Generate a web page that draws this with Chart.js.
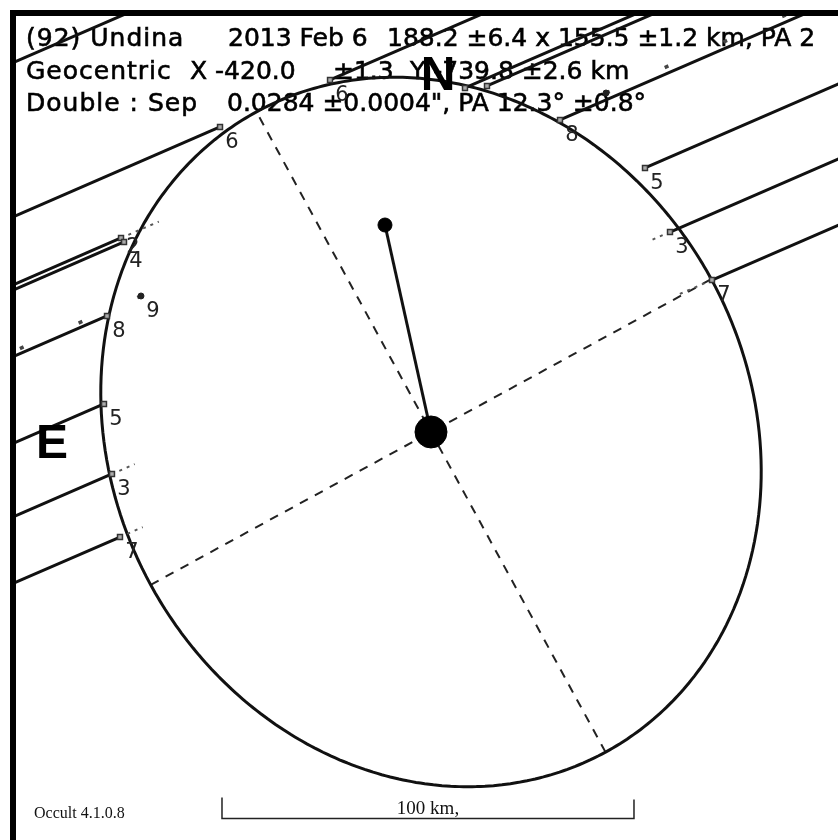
<!DOCTYPE html>
<html>
<head>
<meta charset="utf-8">
<script src="https://cdn.jsdelivr.net/npm/chart.js@4.4.1/dist/chart.umd.min.js"></script>
<style>
  html, body { margin: 0; padding: 0; background: #fff; }
  #wrap { width: 838px; height: 840px; }
</style>
</head>
<body>
<div id="wrap"><canvas id="occ" width="838" height="840"></canvas></div>
<script>
// all positions in km on the sky plane, origin at the fitted centre
const chordIds = ["6", "2", "4", "8", "9", "5", "3", "7"];
const disX = [-51.21, -75.24, -74.51, -78.64, -70.39, -79.37, -77.43, -75.49];
const disY = [74.03, 47.09, 46.12, 28.16, 33.01, 6.80, -10.19, -25.49];
const reaX = [-24.51, 8.25, 13.59, 31.31, 42.48, 51.94, 58.01, 68.20];
const reaY = [85.44, 83.50, 83.98, 75.73, 82.28, 64.08, 48.54, 36.89];
const errDis = [0, 10, 0, 0, 0, 0, 6, 6];
const errRea = [0, 0, 0, 0, 0, 0, 5, 9];
const visualChords = ["9"];
const missX = [-87.62];
const missY = [95.63];

const pathAngle = 23.46;   // direction of motion, deg above the x axis
const fitMajor = 177.0;
const fitMinor = 155.0;
const fitPA = 28.6;
const secX = -11.17;
const secY = 50.24;
const barStart = -50.73;
const barKm = 100;
const barY = -93.69;

const titleLines = [
  ["(92) Undina", "2013 Feb 6", "188.2 \u00b16.4 x 155.5 \u00b11.2 km, PA 2"],
  ["Geocentric", "X -420.0", "\u00b11.3", "Y -739.8 \u00b12.6 km"],
  ["Double : Sep", "0.0284 \u00b10.0004\", PA 12.3\u00b0 \u00b10.8\u00b0"]
];

const deg = Math.PI / 180;
const ux = Math.cos(pathAngle * deg), uy = Math.sin(pathAngle * deg);
const far = 400;

function seg(x1, y1, x2, y2) {
  return [{ x: x1, y: y1 }, { x: x2, y: y2 }];
}

const maj = { x: -Math.sin(fitPA * deg), y: Math.cos(fitPA * deg) };
const mnr = { x: Math.cos(fitPA * deg), y: Math.sin(fitPA * deg) };

const limb = [];
for (let i = 0; i <= 240; i++) {
  const t = (i / 240) * 2 * Math.PI;
  const a = (fitMajor / 2) * Math.cos(t), b = (fitMinor / 2) * Math.sin(t);
  limb.push({ x: a * maj.x + b * mnr.x, y: a * maj.y + b * mnr.y });
}

const line = (data, extra) => Object.assign({
  data: data,
  showLine: true,
  borderColor: "#111",
  borderWidth: 3,
  pointRadius: 0,
  tension: 0,
  clip: 0,
}, extra || {});

const datasets = [];

// markers on top
const markers = [];
chordIds.forEach((id, i) => {
  if (visualChords.includes(id)) return;
  markers.push({ x: disX[i], y: disY[i] });
  markers.push({ x: reaX[i], y: reaY[i] });
});
datasets.push({
  data: markers,
  pointStyle: "rect",
  pointRadius: 3.5,
  pointBackgroundColor: "#aaa",
  pointBorderColor: "#333",
  pointBorderWidth: 1.5,
  clip: 0,
});

// visual chord end dots
const vis = [];
chordIds.forEach((id, i) => {
  if (!visualChords.includes(id)) return;
  vis.push({ x: disX[i], y: disY[i] }, { x: reaX[i], y: reaY[i] });
});
datasets.push({
  data: vis,
  pointRadius: 3,
  pointBackgroundColor: "#222",
  pointBorderColor: "#222",
  clip: 0,
});

// primary and secondary star
datasets.push({
  data: [{ x: 0, y: 0 }],
  pointRadius: 16,
  pointBackgroundColor: "#000",
  pointBorderColor: "#000",
});
datasets.push({
  data: [{ x: secX, y: secY }],
  pointRadius: 7,
  pointBackgroundColor: "#000",
  pointBorderColor: "#000",
});
datasets.push(line(seg(0, 0, secX, secY), { borderWidth: 3 }));

// chords, each drawn outward from its D / R point
chordIds.forEach((id, i) => {
  const style = visualChords.includes(id)
    ? { borderDash: [4, 60], borderWidth: 3.5, borderColor: "#444" }
    : {};
  datasets.push(line(seg(disX[i], disY[i], disX[i] - far * ux, disY[i] - far * uy), style));
  datasets.push(line(seg(reaX[i], reaY[i], reaX[i] + far * ux, reaY[i] + far * uy), style));
  if (errDis[i]) {
    datasets.push(line(seg(disX[i], disY[i], disX[i] + errDis[i] * ux, disY[i] + errDis[i] * uy),
      { borderDash: [3, 5], borderWidth: 2, borderColor: "#555" }));
  }
  if (errRea[i]) {
    datasets.push(line(seg(reaX[i], reaY[i], reaX[i] - errRea[i] * ux, reaY[i] - errRea[i] * uy),
      { borderDash: [3, 5], borderWidth: 2, borderColor: "#555" }));
  }
});
missX.forEach((mx, i) => {
  datasets.push(line(seg(mx - far * ux, missY[i] - far * uy, mx + far * ux, missY[i] + far * uy)));
});

// fitted limb and axes (small tension avoids the straight-line fast path)
datasets.push(line(limb, { borderWidth: 3, borderColor: "#111", tension: 0.0001 }));
const ha = fitMajor / 2, hb = fitMinor / 2;
datasets.push(line(seg(-ha * maj.x, -ha * maj.y, ha * maj.x, ha * maj.y),
  { borderDash: [9, 8], borderWidth: 2, borderColor: "#222" }));
datasets.push(line(seg(-hb * mnr.x, -hb * mnr.y, hb * mnr.x, hb * mnr.y),
  { borderDash: [9, 8], borderWidth: 2, borderColor: "#222" }));

const overlay = {
  id: "overlay",
  beforeDraw(chart) {
    const ctx = chart.ctx;
    ctx.save();
    ctx.fillStyle = "#fff";
    ctx.fillRect(0, 0, chart.width, chart.height);
    ctx.restore();
  },
  beforeDatasetsDraw(chart) {
    const ctx = chart.ctx;
    ctx.save();
    ctx.fillStyle = "#000";
    ctx.strokeStyle = "#000";
    ctx.lineWidth = 0.6;
    ctx.textBaseline = "alphabetic";
    ctx.font = "25px 'DejaVu Sans'";
    const xs = [[26, 228, 387], [26, 190, 333, 410], [26, 227]];
    const ys = [46, 79, 111];
    titleLines.forEach((parts, r) => {
      parts.forEach((p, c) => {
        ctx.letterSpacing = c === 0 ? "1px" : "0px";
        ctx.fillText(p, xs[r][c], ys[r]);
        ctx.strokeText(p, xs[r][c], ys[r]);
      });
    });
    ctx.letterSpacing = "0px";
    ctx.restore();
  },
  afterDatasetsDraw(chart) {
    const ctx = chart.ctx;
    const xs = chart.scales.x, ys = chart.scales.y;
    ctx.save();
    // chord numbers
    ctx.fillStyle = "#222";
    ctx.font = "21px 'DejaVu Sans'";
    ctx.textAlign = "center";
    ctx.textBaseline = "middle";
    const nudge = { "2": -6, "4": 4 };
    const noRea = ["2", "4", "9"];
    chordIds.forEach((id, i) => {
      const dy = nudge[id] || 0;
      ctx.fillText(id, xs.getPixelForValue(disX[i]) + 12, ys.getPixelForValue(disY[i]) + 16 + dy);
      if (!noRea.includes(id)) {
        ctx.fillText(id, xs.getPixelForValue(reaX[i]) + 12, ys.getPixelForValue(reaY[i]) + 16);
      }
    });
    // compass letters
    ctx.fillStyle = "#000";
    ctx.font = "bold 48px 'Liberation Sans'";
    ctx.textBaseline = "alphabetic";
    ctx.fillText("N", 438, 90);
    ctx.textAlign = "left";
    ctx.fillText("E", 36, 458);
    // scale bar
    const x1 = xs.getPixelForValue(barStart), x2 = xs.getPixelForValue(barStart + barKm);
    const yb = Math.round(ys.getPixelForValue(barY)) + 0.5;
    ctx.strokeStyle = "#222";
    ctx.lineWidth = 1.5;
    ctx.beginPath();
    ctx.moveTo(x1, yb - 21); ctx.lineTo(x1, yb); ctx.lineTo(x2, yb); ctx.lineTo(x2, yb - 19);
    ctx.stroke();
    ctx.fillStyle = "#111";
    ctx.font = "19px 'Liberation Serif'";
    ctx.textAlign = "center";
    ctx.fillText(barKm + " km,", (x1 + x2) / 2, yb - 5);
    ctx.textAlign = "left";
    ctx.font = "16px 'Liberation Serif'";
    ctx.fillText("Occult 4.1.0.8", 34, yb - 1);
    // frame
    ctx.fillStyle = "#000";
    ctx.fillRect(10, 10, 6, chart.height - 10);
    ctx.fillRect(10, 10, chart.width - 10, 6);
    ctx.restore();
  }
};

new Chart(document.getElementById("occ"), {
  type: "scatter",
  data: { datasets: datasets },
  options: {
    responsive: false,
    animation: false,
    devicePixelRatio: 1,
    layout: { autoPadding: false, padding: { left: 16, top: 16, right: 0, bottom: 0 } },
    scales: {
      x: { type: "linear", min: -100.73, max: 98.79, display: false },
      y: { type: "linear", min: -99.03, max: 100.97, display: false },
    },
    plugins: {
      legend: { display: false },
      tooltip: { enabled: false },
    },
  },
  plugins: [overlay],
});
</script>
</body>
</html>
